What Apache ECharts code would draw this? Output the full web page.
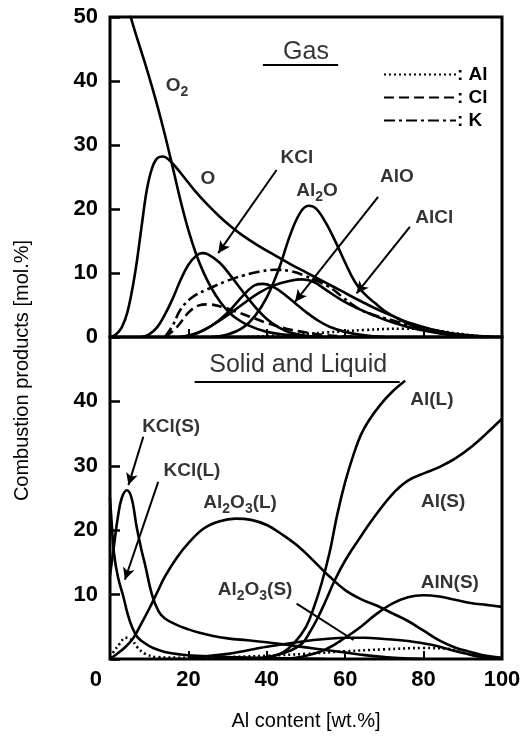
<!DOCTYPE html>
<html>
<head>
<meta charset="utf-8">
<script src="https://cdn.jsdelivr.net/npm/echarts@6/dist/echarts.min.js"></script>
<style>
  html, body { margin: 0; padding: 0; background: #fff; }
  #chart { width: 527px; height: 741px; }
</style>
</head>
<body>
<div id="chart"></div>
<script>
// ---- Gas phase, mol.% against Al content [wt.%] ----
const gasO2   = [[0,61],[2,57],[4,52.8],[6,48.5],[8,44.6],[10,40.6],[12,36.3],[14,31.6],[16,26.5],[18,21.3],[20,16.7],[22,12.9],[24,9.9],[26,7.5],[28,5.6],[30,4.1],[32,3],[35,1.9],[40,0.8],[45,0.35],[50,0.12],[55,0]];
const gasO    = [[0,0],[1.5,0.4],[3,1.5],[4.5,4],[6.4,10],[8,17],[9.4,23],[10.8,26.5],[12.2,28],[13.5,28.2],[15,27.7],[17,26.4],[19.5,24.5],[22,22.6],[25,20.6],[28,18.8],[31,17.2],[34,15.8],[38,14.2],[42,12.8],[46,11.4],[50,10.1],[55,8.5],[59,7.2],[63,5.9],[67.6,4.5],[72,3.3],[77,2.1],[82,1.2],[87,0.6],[92,0.25],[97,0.05],[100,0]];
const gasKCl  = [[8,0],[10,0.4],[12,1.5],[14,3.5],[16,6],[18,8.9],[20,11.3],[22,12.7],[23.5,13.1],[25,12.9],[28,11.6],[31,9.4],[34,7],[37,4.7],[40,2.8],[43,1.5],[46,0.7],[50,0.2],[54,0]];
const gasAl2O = [[26,0],[30,0.4],[34,1.5],[37,3.3],[40,6.2],[43,10.5],[46,16],[48.5,19.4],[50.6,20.5],[52.5,20.1],[55,17.9],[57.9,14.4],[60,11.6],[62.5,8.6],[65,6.7],[67.6,5.3],[70,4.1],[74,2.7],[78,1.6],[82,0.9],[86,0.4],[90,0.15],[95,0]];
const gasAlO  = [[18,0],[22,0.5],[26,1.8],[30,3.8],[34,6.5],[37,8.1],[39,8.3],[42,7.7],[45,6.4],[47,5.4],[50,3.9],[53,2.6],[56,1.6],[60,0.8],[65,0.25],[70,0]];
const gasAlCl = [[18,0],[22,0.6],[26,1.8],[30,3.4],[34,5.2],[38,6.9],[42,8.1],[46,8.8],[49,9],[52,8.6],[55,7.4],[59,5.8],[63,4.5],[67.6,3.3],[72,2.3],[77,1.4],[82,0.8],[87,0.35],[92,0.1],[97,0]];
const gasAl   = [[35,0],[45,0.3],[55,0.7],[65,1.1],[75,1.3],[82,1.1],[88,0.6],[94,0.15],[100,0]];
const gasCl   = [[14,0],[17,1.5],[20,3.8],[22.5,4.9],[25,5.1],[28.5,4.7],[32,4],[36,3.1],[40,2.2],[45,1.3],[50,0.7],[55,0.3],[60,0.1],[65,0]];
const gasK    = [[14,0],[16,1.8],[18,4.3],[21,6.2],[25,7.5],[30,8.8],[34,9.6],[38,10.2],[42,10.5],[46,10.3],[50,9.5],[55.7,7.9],[59,6.4],[62.5,4.8],[66,3.7],[72,2.6],[77,1.7],[82,1],[87,0.45],[92,0.15],[97,0]];

// ---- Solid and liquid phases ----
const sKClS   = [[0,13],[1,17.5],[2,22],[3,25],[4.3,26.2],[5.5,25],[6.8,20.5],[8,17],[9,14.5],[10.7,10],[12.4,7.4],[14,6.3],[17,5.3],[20,4.6],[22.6,4.1],[26,3.6],[30,3.2],[35,2.9],[40,2.6],[45,2.2],[50,1.8],[55,1.4],[60,1],[65,0.6],[70,0.3],[75,0.1],[80,0]];
const sKClL   = [[0,25],[0.5,20.5],[1,16.5],[2,12.8],[3.4,9.7],[4.5,7],[5.6,5],[7,3.4],[9,2.4],[11,1.7],[14,1.1],[18,0.7],[22,0.5],[30,0.3],[40,0.15],[50,0.05],[55,0]];
const sAl2O3L = [[0,0],[2,0.9],[4,1.9],[6,3.3],[8,5.5],[10,7.8],[12,10.3],[14,12.8],[17,15.7],[20,18],[24,20.3],[28,21.4],[32,21.8],[36,21.6],[40,20.8],[44,19.3],[48,17.5],[52,15.2],[56,12.8],[60,10.7],[64,9.3],[68,8.3],[72,7.1],[76,5.9],[80,4.4],[84,2.9],[88,1.8],[92,1.1],[96,0.5],[100,0.2]];
const sAl2O3S = [[20,0.2],[30,0.8],[40,1.9],[50,2.8],[55,3.1],[60,3.3],[65,3.3],[70,3.1],[76,2.8],[82,2.2],[87,1.4],[91,0.8],[95,0.3],[100,0.1]];
const sAlL    = [[35,0],[40,0.3],[44,1],[47,2.5],[50,5],[52,8],[54,11.8],[56,16.5],[58,22.5],[60,27.5],[62,31.5],[64,34.8],[66,37],[69,39.5],[72,41.5],[75.3,43.2]];
const sAlS    = [[38,0],[42,0.5],[46,1.3],[49,2.4],[51,4.2],[53,6.4],[55,9],[57.4,12.3],[60,15.3],[63.4,18.5],[67,21.7],[71.9,25.5],[76,27.7],[80.4,28.9],[84,29.8],[88,31.1],[92.3,33],[96,35],[100,37.3]];
const sAlNS   = [[45,0],[50,0.5],[55,1.5],[60,3.3],[64,5],[68,7],[72,8.6],[76,9.6],[80,9.9],[84,9.7],[88,9.2],[92,8.7],[96,8.4],[100,8.1]];
const sAl     = [[0,0.3],[1,1.2],[2.5,2.4],[4,3.3],[5.5,3],[7,1.8],[9,0.8],[12,0.3],[20,0.2],[30,0.3],[40,0.5],[50,0.8],[60,1.2],[70,1.5],[80,1.7],[86,1.6],[90,1],[95,0.3],[100,0.1]];

// tick values
const xTicks = [0, 20, 40, 60, 80, 100];
const yTicks = [0, 10, 20, 30, 40, 50];

// annotation text anchors, in data units: [text, x, y]
const gasNotes = [
  ['O{s|2}', 17.1, 39.2], ['O', 25, 24.8], ['KCl', 47.7, 28],
  ['Al{s|2}O', 52.8, 22.8], ['AlO', 73.2, 25], ['AlCl', 82.7, 18.6]
];
const gasArrows = [[[42.5, 26.1], [27.6, 13.1]], [[68.4, 21.9], [47.2, 5.5]], [[76.5, 17.2], [62.9, 6.8]]];
const solidNotes = [
  ['KCl(S)', 15.6, 36], ['KCl(L)', 20.9, 29.2], ['Al{s|2}O{s|3}(L)', 33.2, 24.2],
  ['Al{s|2}O{s|3}(S)', 37, 10.7], ['Al(L)', 82.1, 40.2], ['Al(S)', 85, 24.4], ['AlN(S)', 86.7, 11.8]
];
const solidArrows = [[[8.5, 34.5], [4.7, 27]], [[12.3, 27.5], [3.8, 12.3]]];
const solidLeaders = [[[47.6, 8.6], [62.1, 2.95]]];

const FONT = '"Liberation Sans", Arial, Helvetica, sans-serif';
const BLACK = '#000';

const chart = echarts.init(document.getElementById('chart'), null, { renderer: 'canvas' });

function curve(name, data, grid, type) {
  return {
    name, type: 'line', data, xAxisIndex: grid, yAxisIndex: grid,
    symbol: 'none', smooth: 0.4, clip: true, silent: true,
    lineStyle: { color: BLACK, width: 2.6, type: type || 'solid' },
    itemStyle: { color: BLACK }
  };
}

const subRich = {
  s: { fontSize: 14, fontWeight: 'bold', fontFamily: FONT, color: BLACK, verticalAlign: 'bottom', lineHeight: 14 }
};

function notes(list, grid, arrows, leaders, heading, underline) {
  const data = list.map(n => ({ value: [n[1], n[2]], name: n[0] }));
  const lines = [];
  arrows.forEach(a => lines.push([{ coord: a[0], symbol: 'none' }, { coord: a[1], symbol: 'arrow' }]));
  leaders.forEach(a => lines.push([{ coord: a[0], symbol: 'none' }, { coord: a[1], symbol: 'none' }]));
  lines.push([{ coord: underline[0], symbol: 'none' }, { coord: underline[1], symbol: 'none' }]);
  data.push({ value: heading.pos, name: heading.text, label: { fontWeight: 'normal', fontSize: 25 } });
  return {
    type: 'scatter', xAxisIndex: grid, yAxisIndex: grid, silent: true, z: 20,
    symbolSize: 0, data,
    label: {
      show: true, position: 'inside', formatter: p => p.name,
      fontFamily: FONT, fontSize: 19, fontWeight: 'bold', color: BLACK, lineHeight: 26,
      rich: subRich
    },
    markLine: {
      silent: true, symbolSize: [9, 12], precision: 3,
      lineStyle: { color: BLACK, width: 2, type: 'solid' },
      label: { show: false },
      data: lines
    }
  };
}

const tickLabel = { fontFamily: FONT, fontSize: 22, fontWeight: 'bold', color: BLACK };

function xAxis(grid, showLabels) {
  return {
    type: 'value', gridIndex: grid, min: 0, max: 100, interval: 20,
    axisLine: { show: false }, splitLine: { show: false },
    axisTick: { show: true, inside: true, length: 8, lineStyle: { color: BLACK, width: 2 } },
    axisLabel: showLabels ? Object.assign({
      show: true, margin: 10, alignMinLabel: 'right',
      formatter: v => (v === 0 ? '{z|0}' : String(v)),
      rich: { z: Object.assign({ padding: [0, 8, 0, 0] }, tickLabel) }
    }, tickLabel) : { show: false },
    name: showLabels ? 'Al content [wt.%]' : '', nameLocation: 'middle', nameGap: 52,
    nameTextStyle: { fontFamily: FONT, fontSize: 20, color: BLACK }
  };
}

function yAxis(grid, hideEnds) {
  return {
    type: 'value', gridIndex: grid, min: 0, max: 50, interval: 10,
    axisLine: { show: false }, splitLine: { show: false },
    axisTick: { show: true, inside: true, length: 10, lineStyle: { color: BLACK, width: 2.5 } },
    axisLabel: Object.assign({
      show: true, margin: 12,
      formatter: v => (hideEnds && (v === 0 || v === 50) ? '' : String(v))
    }, tickLabel)
  };
}

const option = {
  backgroundColor: '#fff',
  animation: false,
  grid: [
    { left: 110, top: 17, width: 392, height: 320, show: true, borderColor: BLACK, borderWidth: 3, backgroundColor: 'transparent' },
    { left: 110, top: 337, width: 392, height: 322, show: true, borderColor: BLACK, borderWidth: 3, backgroundColor: 'transparent' }
  ],
  xAxis: [xAxis(0, false), xAxis(1, true)],
  yAxis: [yAxis(0, false), yAxis(1, true)],
  legend: {
    data: ['Al', 'Cl', 'K'], orient: 'vertical', left: 378, top: 60,
    itemWidth: 72, itemHeight: 14, itemGap: 4, selectedMode: false,
    itemStyle: { opacity: 0, borderWidth: 0 },
    formatter: ': {name}',
    textStyle: { fontFamily: FONT, fontSize: 19, fontWeight: 'bold', color: BLACK, padding: [0, 0, 0, -4] }
  },
  graphic: [{
    type: 'text', left: 12, top: 'middle', rotation: Math.PI / 2,
    style: { text: 'Combustion products [mol.%]', font: '20px ' + FONT, fill: BLACK }
  }],
  series: [
    curve('O2', gasO2, 0), curve('O', gasO, 0), curve('KCl', gasKCl, 0),
    curve('Al2O', gasAl2O, 0), curve('AlO', gasAlO, 0), curve('AlCl', gasAlCl, 0),
    curve('Al', gasAl, 0, [2, 3]), curve('Cl', gasCl, 0, [10, 5]), curve('K', gasK, 0, [11, 4, 3, 4]),
    curve('KCl(S)', sKClS, 1), curve('KCl(L)', sKClL, 1), curve('Al2O3(L)', sAl2O3L, 1),
    curve('Al2O3(S)', sAl2O3S, 1), curve('Al(L)', sAlL, 1), curve('Al(S)', sAlS, 1),
    curve('AlN(S)', sAlNS, 1), curve('Al', sAl, 1, [2, 3]),
    notes(gasNotes, 0, gasArrows, [], { text: 'Gas', pos: [50, 44.5] }, [[39, 42.5], [58.2, 42.5]]),
    notes(solidNotes, 1, solidArrows, solidLeaders, { text: 'Solid and Liquid', pos: [48, 45.7] }, [[21.6, 43.1], [73.9, 43.1]])
  ]
};

chart.setOption(option);
</script>
</body>
</html>
